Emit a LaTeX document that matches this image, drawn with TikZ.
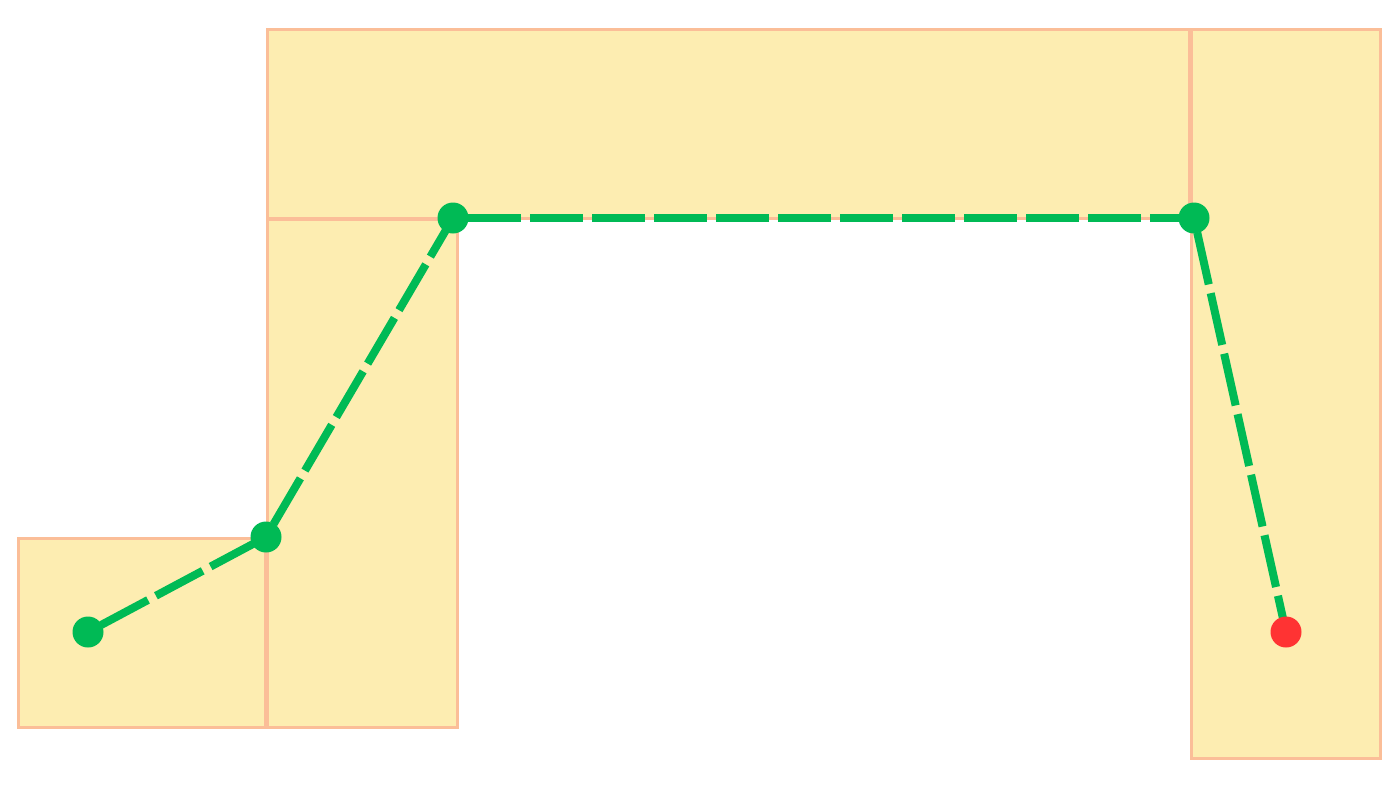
\documentclass[tikz,border=0pt]{standalone}
\definecolor{boxfill}{HTML}{FDEDB1}
\definecolor{boxline}{HTML}{FBBE98}
\definecolor{pathgreen}{HTML}{00BA55}
\definecolor{endred}{HTML}{FF3333}
\tikzset{
  room/.style={fill=boxfill, draw=boxline, line width=3pt},
  route/.style={draw=pathgreen, line width=8pt, dash pattern=on 53pt off 9pt, dash phase=47pt},
  waypoint/.style={circle, fill=pathgreen, inner sep=0pt, minimum size=31pt},
  goal/.style={circle, fill=endred, inner sep=0pt, minimum size=31pt},
}
\begin{document}
\begin{tikzpicture}[x=1pt,y=-1pt]
\useasboundingbox (0,0) rectangle (1400,788);
\draw[room] (18,538) rectangle (265,727);
\draw[room] (267,219) rectangle (457,727);
\draw[room] (267,29) rectangle (1189,218);
\draw[room] (1191,29) rectangle (1380,758);
\coordinate (p1) at (88,632);
\coordinate (p2) at (266,537);
\coordinate (p3) at (453,218);
\coordinate (p4) at (1194,218);
\coordinate (p5) at (1286,632);
\draw[route] (p1) -- (p2);
\draw[route] (p2) -- (p3);
\draw[route] (p3) -- (p4);
\draw[route] (p4) -- (p5);
\node[waypoint] (n1) at (p1) {};
\node[waypoint] (n2) at (p2) {};
\node[waypoint] (n3) at (p3) {};
\node[waypoint] (n4) at (p4) {};
\node[goal] (n5) at (p5) {};
\end{tikzpicture}
\end{document}
